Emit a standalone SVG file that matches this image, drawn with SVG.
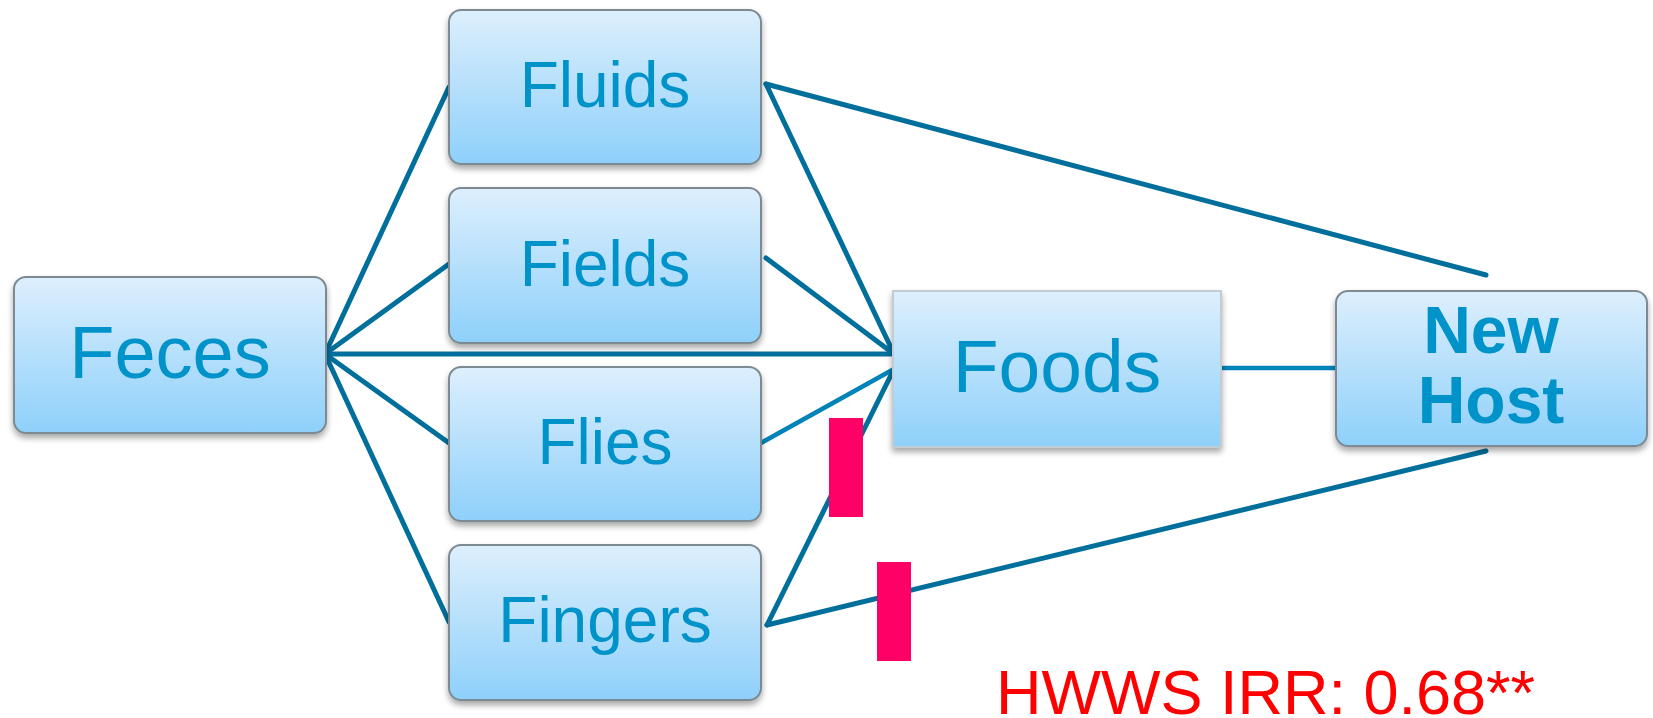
<svg xmlns="http://www.w3.org/2000/svg" width="1653" height="718" viewBox="0 0 1653 718">
<defs>
<linearGradient id="g" x1="0" y1="0" x2="0" y2="1">
<stop offset="0" stop-color="#DDEFFD"/>
<stop offset="1" stop-color="#8ED0FA"/>
</linearGradient>
<filter id="sh" x="-10%" y="-10%" width="120%" height="130%">
<feGaussianBlur in="SourceAlpha" stdDeviation="3"/>
<feOffset dx="0" dy="4" result="b"/>
<feComponentTransfer><feFuncA type="linear" slope="0.35"/></feComponentTransfer>
<feMerge><feMergeNode/><feMergeNode in="SourceGraphic"/></feMerge>
</filter>
</defs>
<style>
.box{fill:url(#g);stroke:#7D8A92;stroke-width:2;filter:url(#sh)}
.sq{fill:url(#g);stroke:#C3CCD2;stroke-width:2;filter:url(#sh)}
.t{font-family:"Liberation Sans",Arial,sans-serif;fill:#0093C9;text-anchor:middle}
.c{stroke:#006F9C;stroke-width:5;fill:none;stroke-linecap:round}
.cl{stroke:#0083B8;stroke-width:4.5;fill:none;stroke-linecap:round}
.mark{fill:#FF0066}
</style>
<g id="connectors">
<line class="c" x1="325" y1="354" x2="449" y2="87"/>
<line class="c" x1="325" y1="354" x2="449" y2="264"/>
<line class="c" x1="325" y1="354" x2="894" y2="354"/>
<line class="c" x1="325" y1="354" x2="449" y2="443"/>
<line class="c" x1="325" y1="354" x2="449" y2="622"/>
<line class="c" x1="766" y1="84" x2="894" y2="354"/>
<line class="c" x1="766" y1="84" x2="1486" y2="275"/>
<line class="c" x1="766" y1="258" x2="894" y2="354"/>
<line class="cl" x1="761" y1="443" x2="894" y2="369"/>
<line class="c" x1="767" y1="625" x2="894" y2="369"/>
<line class="cl" x1="1221" y1="368" x2="1336" y2="368"/>
<line class="c" x1="767" y1="625" x2="1486" y2="451"/>
</g>
<g id="feces"><rect class="box" x="14" y="277" width="312" height="156" rx="12"/><text class="t" x="170" y="378" font-size="74">Feces</text></g>
<g id="fluids"><rect class="box" x="449" y="10" width="312" height="154" rx="12"/><text class="t" x="605" y="107" font-size="64">Fluids</text></g>
<g id="fields"><rect class="box" x="449" y="188" width="312" height="155" rx="12"/><text class="t" x="605" y="286" font-size="64">Fields</text></g>
<g id="flies"><rect class="box" x="449" y="367" width="312" height="154" rx="12"/><text class="t" x="605" y="464" font-size="64">Flies</text></g>
<g id="fingers"><rect class="box" x="449" y="545" width="312" height="155" rx="12"/><text class="t" x="605" y="642" font-size="64">Fingers</text></g>
<g id="foods"><rect class="sq" x="893" y="291" width="328" height="156"/><text class="t" x="1057" y="392" font-size="75">Foods</text></g>
<g id="newhost"><rect class="box" x="1336" y="291" width="311" height="155" rx="12"/><text class="t" x="1491" y="353" font-size="66" font-weight="bold">New</text><text class="t" x="1491" y="423" font-size="66" font-weight="bold">Host</text></g>
<rect class="mark" x="829" y="418" width="34" height="99"/>
<rect class="mark" x="877" y="562" width="34" height="99"/>
<text x="996" y="714" font-family="Liberation Sans, Arial, sans-serif" font-size="63" fill="#FF0000">HWWS IRR: 0.68**</text>
</svg>
